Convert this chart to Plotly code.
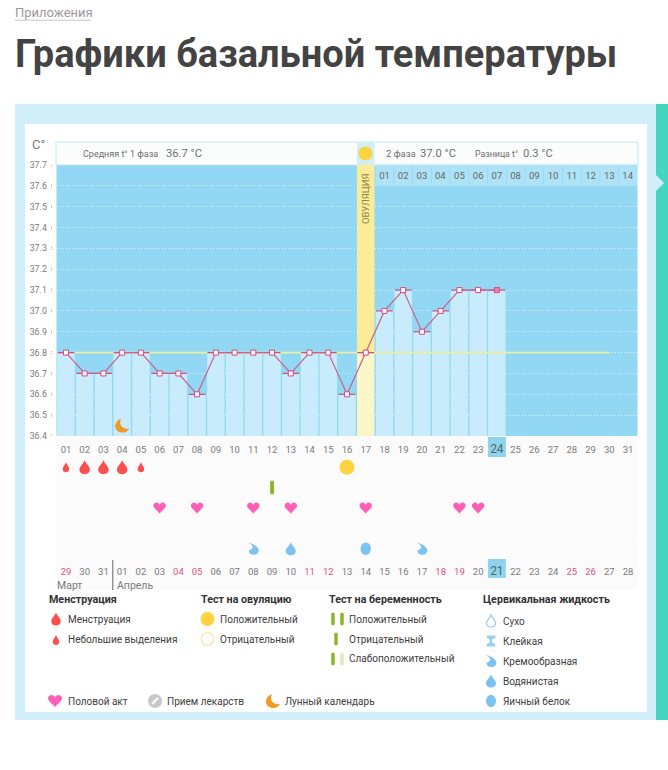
import plotly.graph_objects as go

W, H = 668, 770

# ---------- data ----------
days = list(range(1, 32))
day_labels = [f"{d:02d}" for d in days]
measured_days = list(range(1, 25))
temperature = [36.8, 36.7, 36.7, 36.8, 36.8, 36.7, 36.7, 36.6, 36.8, 36.8, 36.8, 36.8,
               36.7, 36.8, 36.8, 36.6, 36.8, 37.0, 37.1, 36.9, 37.0, 37.1, 37.1, 37.1]
y_ticks = [36.4, 36.5, 36.6, 36.7, 36.8, 36.9, 37.0, 37.1, 37.2, 37.3, 37.4, 37.5, 37.6, 37.7]
cover_line_days = [1.5, 30]
cover_line_temp = [36.8, 36.8]
ovulation_day = 17
today = 24
today_date_label = "21"
phase2_days = list(range(18, 32))
phase2_labels = [f"{i:02d}" for i in range(1, 15)]
calendar_labels = ["29", "30", "31", "01", "02", "03", "04", "05", "06", "07", "08", "09", "10", "11", "12",
                   "13", "14", "15", "16", "17", "18", "19", "20", "21", "22", "23", "24", "25", "26", "27", "28"]
weekend_positions = [1, 7, 8, 14, 15, 21, 22, 28, 29]
month_break = 3.5
months = ["Март", "Апрель"]
rows = ["menstruation", "pregnancy", "intercourse", "medicine", "cervical"]
heavy_days = [2, 3, 4]
light_days = [1, 5]
ovul_test_days = [16]
preg_test_days = [12]
heart_days = [6, 8, 11, 13, 17, 22, 23]
creamy_days = [11, 20]
watery_days = [13]
eggwhite_days = [17]
moon_days = [4]
moon_temp = 36.45
phase1_title, phase1_value = "Средняя t° 1 фаза", "36.7 °C"
phase2_title, phase2_value = "2 фаза", "37.0 °C"
diff_title, diff_value = "Разница t°", "0.3 °C"

# ---------- styles ----------
RED = "#fb4f4f"; PINK = "#fb5fb6"; BLUE = "#7cc3ef"; GREEN = "#8fb52c"; ORANGE = "#ef9a22"
YELLOW = "#fdd33f"; TXT = "#7a7a7a"; LEG = "#404040"
FONT = "Roboto"


def fx(px): return px / W
def fy(py): return 1 - py / H


def ellipse_path(rx, ry):
    kx, ky = rx * 0.5523, ry * 0.5523
    return (f"M0,{ry} C{kx},{ry} {rx},{ky} {rx},0 C{rx},{-ky} {kx},{-ry} 0,{-ry} "
            f"C{-kx},{-ry} {-rx},{-ky} {-rx},0 C{-rx},{ky} {-kx},{ry} 0,{ry} Z")


def circle_path(r):
    return ellipse_path(r, r)


def drop_path(w, h):
    return (f"M0,{h/2} C{w*.12},{h*.25} {w/2},{h*.05} {w/2},{-h*.17} C{w/2},{-h*.38} {w*.27},{-h/2} 0,{-h/2} "
            f"C{-w*.27},{-h/2} {-w/2},{-h*.38} {-w/2},{-h*.17} C{-w/2},{h*.05} {-w*.12},{h*.25} 0,{h/2} Z")


def heart_path(w, h):
    return (f"M0,{-h/2} C{-w*.2},{-h*.22} {-w/2},{-h*.02} {-w/2},{h*.22} C{-w/2},{h*.42} {-w*.34},{h/2} {-w*.24},{h/2} "
            f"C{-w*.12},{h/2} {-w*.03},{h*.42} 0,{h*.28} C{w*.03},{h*.42} {w*.12},{h/2} {w*.24},{h/2} "
            f"C{w*.34},{h/2} {w/2},{h*.42} {w/2},{h*.22} C{w/2},{-h*.02} {w*.2},{-h*.22} 0,{-h/2} Z")


def moon_path(s):
    return (f"M{-s*.08},{s*.5} C{-s*.38},{s*.38} {-s*.5},{s*.15} {-s*.5},{-s*.05} C{-s*.5},{-s*.32} {-s*.25},{-s*.5} {s*.02},{-s*.5} "
            f"C{s*.25},{-s*.5} {s*.42},{-s*.38} {s*.5},{-s*.2} C{s*.28},{-s*.28} {s*.02},{-s*.2} {-s*.1},{s*.02} "
            f"C{-s*.17},{s*.2} {-s*.14},{s*.36} {-s*.08},{s*.5} Z")


def creamy_path(s):
    return (f"M{-s*.42},{s*.5} C{-s*.05},{s*.45} {s*.45},{s*.15} {s*.45},{-s*.14} C{s*.45},{-s*.36} {s*.25},{-s*.5} {s*.02},{-s*.5} "
            f"C{-s*.22},{-s*.5} {-s*.38},{-s*.34} {-s*.38},{-s*.14} C{-s*.18},{-s*.1} {-s*.05},{s*.02} {-s*.05},{s*.12} "
            f"C{-s*.1},{s*.3} {-s*.25},{s*.42} {-s*.42},{s*.5} Z")


def hourglass_path(s):
    return (f"M{-s*.4},{s*.5} L{s*.4},{s*.5} L{s*.4},{s*.32} L{s*.1},{s*.12} L{s*.1},{-s*.12} L{s*.4},{-s*.32} "
            f"L{s*.4},{-s*.5} L{-s*.4},{-s*.5} L{-s*.4},{-s*.32} L{-s*.1},{-s*.12} L{-s*.1},{s*.12} L{-s*.4},{s*.32} Z")


def bar_path(w, h):
    r = w / 2
    return (f"M{-r},{h/2-r} Q{-r},{h/2} 0,{h/2} Q{r},{h/2} {r},{h/2-r} L{r},{-h/2+r} Q{r},{-h/2} 0,{-h/2} "
            f"Q{-r},{-h/2} {-r},{-h/2+r} Z")


shapes = []
ann = []


def rect(x0, y0, x1, y1, color, layer="below", line=None):
    shapes.append(dict(type="rect", xref="paper", yref="paper", x0=fx(x0), x1=fx(x1), y0=fy(y0), y1=fy(y1),
                       fillcolor=color, line=line or dict(width=0), layer=layer))


def glyph(path, xa, ya, xref, yref, color, line=None):
    shapes.append(dict(type="path", path=path, xref=xref, yref=yref, xsizemode="pixel", ysizemode="pixel",
                       xanchor=xa, yanchor=ya, fillcolor=color, line=line or dict(width=0), layer="above"))


def lglyph(path, px, py, color, line=None):
    glyph(path, fx(px), fy(py), "paper", "paper", color, line)


def text(t, px, py, size=10, color=LEG, weight=None, anchor="left", family=FONT):
    ann.append(dict(text=t, x=fx(px), y=fy(py), xref="paper", yref="paper", showarrow=False, xanchor=anchor,
                    yanchor="middle", font=dict(size=size, color=color, family=family, weight=weight or 400),
                    borderpad=0, borderwidth=0))


# ---------- page frame ----------
rect(15, 104, 656, 720, "#d0eff9")
rect(656, 104, 668, 720, "#45d5c0")
shapes.append(dict(type="path", xref="paper", yref="paper", layer="below", fillcolor="#d0eff9", line=dict(width=0),
                   path=f"M{fx(656)},{fy(175)} L{fx(664)},{fy(183)} L{fx(656)},{fy(191)} Z"))
rect(25, 124, 647, 712, "#ffffff")
rect(15, 19.5, 91, 21, "#d9d9d9")

# ---------- panels ----------
rect(56.5, 165, 637.5, 436, "#92d8f4")
rect(56, 142, 638, 165, "#fbfdfd", line=dict(width=1, color="#bfe6f3"))
rect(357, 142.5, 374.5, 165, "#cfeef8")
rect(56.5, 437, 637.5, 590, "#fbfbfb")
for sep in [477.5, 498, 518.5, 539, 559]:
    rect(56.5, sep - 0.5, 637.5, sep + 0.5, "#ffffff")

# today highlight cells, anchored on the day scale
for y0, y1 in [(437, 457), (559, 578)]:
    shapes.append(dict(type="rect", xref="x", yref="paper", x0=today - 0.48, x1=today + 0.48, y0=fy(y1), y1=fy(y0),
                       fillcolor="#8ed4ef", line=dict(width=0), layer="below"))

# y tick dots
for t in y_ticks:
    shapes.append(dict(type="line", xref="paper", yref="y", x0=fx(51.5), x1=fx(51.5),
                       ysizemode="pixel", yanchor=t, y0=-1.5, y1=1.5, line=dict(width=1, color="#aaaaaa", dash="1px,1px"),
                       layer="below"))

# month separator
shapes.append(dict(type="line", xref="x2", yref="paper", x0=month_break, x1=month_break, y0=fy(560), y1=fy(590),
                   line=dict(width=1, color="#666666"), layer="above"))

# ---------- figure ----------
fig = go.Figure()
bar_colors = ["#fdf6c8" if d == ovulation_day else "#c9ecfc" for d in measured_days]
fig.add_bar(x=measured_days, y=[v - y_ticks[0] for v in temperature], base=y_ticks[0], width=0.93,
            marker=dict(color=bar_colors, line=dict(width=0)), hoverinfo="skip", xaxis="x", yaxis="y")
fig.add_bar(x=[ovulation_day], y=[y_ticks[-1] - temperature[ovulation_day - 1]], base=temperature[ovulation_day - 1],
            width=0.93, marker=dict(color="#fcec98", line=dict(width=0)), hoverinfo="skip", xaxis="x", yaxis="y")
fig.add_bar(x=phase2_days, y=[y_ticks[-1] - y_ticks[-2]] * len(phase2_days), base=y_ticks[-2], width=0.96,
            marker=dict(color="#aee3f7", line=dict(width=0)), text=phase2_labels, textposition="inside",
            insidetextanchor="middle", textangle=0, constraintext="none",
            textfont=dict(size=9.5, color="#666666", family=FONT), hoverinfo="skip", xaxis="x", yaxis="y")
fig.add_scatter(x=cover_line_days, y=cover_line_temp, mode="lines", line=dict(color="#e9f0a2", width=1.6),
                hoverinfo="skip", xaxis="x", yaxis="y")
marker_fill = ["#ffffff"] * (len(measured_days) - 1) + ["#ee7fa6"]
fig.add_scatter(x=measured_days, y=temperature, mode="lines+markers",
                line=dict(color="#c9628a", width=1.2),
                marker=dict(symbol="square", size=5, color=marker_fill, line=dict(color="#d9487f", width=1)),
                error_x=dict(type="constant", value=0.45, thickness=1.2, width=0, color="#cf4f80"),
                xaxis="x", yaxis="y")
fig.add_scatter(x=ovul_test_days, y=[rows.index("menstruation")] * len(ovul_test_days), mode="markers",
                marker=dict(symbol="circle", size=15, color=YELLOW), xaxis="x2", yaxis="y2")
fig.add_scatter(x=[days[0], days[-1]], y=[0, 4], mode="markers", marker=dict(opacity=0), hoverinfo="skip",
                xaxis="x2", yaxis="y2")

# row marks anchored on the day/row scales
for d in heavy_days:
    glyph(drop_path(10.5, 14), d, rows.index("menstruation"), "x2", "y2", RED)
for d in light_days:
    glyph(drop_path(6.5, 10), d, rows.index("menstruation"), "x2", "y2", RED)
for d in preg_test_days:
    glyph(bar_path(4, 14), d, rows.index("pregnancy"), "x2", "y2", GREEN)
for d in heart_days:
    glyph(heart_path(12.5, 11), d, rows.index("intercourse"), "x2", "y2", PINK)
for d in creamy_days:
    glyph(creamy_path(12), d, rows.index("cervical"), "x2", "y2", BLUE)
for d in watery_days:
    glyph(drop_path(10, 13), d, rows.index("cervical"), "x2", "y2", BLUE)
for d in eggwhite_days:
    glyph(ellipse_path(5.2, 6.2), d, rows.index("cervical"), "x2", "y2", BLUE)
for d in moon_days:
    glyph(moon_path(14), d, moon_temp, "x", "y", ORANGE)

# ---------- header ----------
ann.append(dict(text="ОВУЛЯЦИЯ", x=ovulation_day, y=37.54, xref="x", yref="y", showarrow=False, textangle=-90,
                font=dict(size=9.5, color="#8f8650", family=FONT)))
lglyph(circle_path(7), 365.5, 153.5, YELLOW)
text("Приложения", 15, 12, 13, "#9a9a9a")
text("Графики базальной температуры", 15, 54, 38, "#434343", 700, family="Roboto")
text("C°", 32, 144, 13, "#808080")
text(phase1_title, 83, 154, 9, "#6f6f6f")
text(phase1_value, 166, 153, 11.2, "#6f6f6f")
text(phase2_title, 386, 154, 9.5, "#6f6f6f")
text(phase2_value, 420, 153, 11.2, "#6f6f6f")
text(diff_title, 475, 154, 8.8, "#6f6f6f")
text(diff_value, 523, 153, 11.2, "#6f6f6f")
text(months[0], 57, 585, 10.5, TXT)
text(months[1], 117, 585, 10.5, TXT)

# ---------- legend ----------
for t, x in [("Менструация", 49), ("Тест на овуляцию", 201), ("Тест на беременность", 329), ("Цервикальная жидкость", 483)]:
    text(t, x, 599, 10.7, "#333333", 700)

lglyph(drop_path(9.5, 13), 56, 619, RED)
text("Менструация", 68, 619)
lglyph(drop_path(6.5, 10), 56, 640, RED)
text("Небольшие выделения", 68, 639)

lglyph(circle_path(7), 207.5, 619, YELLOW)
text("Положительный", 220, 619)
lglyph(circle_path(6.3), 207.5, 639, "#ffffff", dict(width=1.2, color="#f7e7a0"))
text("Отрицательный", 220, 639)

lglyph(bar_path(3.5, 13), 333, 619, GREEN)
lglyph(bar_path(3.5, 13), 342, 619, GREEN)
text("Положительный", 349, 619)
lglyph(bar_path(3.5, 13), 336, 639, GREEN)
text("Отрицательный", 349, 639)
lglyph(bar_path(3.5, 13), 333, 659, GREEN)
lglyph(bar_path(3.5, 13), 342, 659, "#dfe9bd")
text("Слабоположительный", 349, 658)

lglyph(drop_path(9, 12), 491, 621, "#ffffff", dict(width=1.2, color="#9ad0ef"))
text("Сухо", 503, 621)
lglyph(hourglass_path(11), 491, 641, "#9ad0ef")
text("Клейкая", 503, 641)
lglyph(creamy_path(12), 491, 661, BLUE)
text("Кремообразная", 503, 661)
lglyph(drop_path(10, 13), 491, 681, BLUE)
text("Водянистая", 503, 681)
lglyph(ellipse_path(5, 6), 491, 701, BLUE)
text("Яичный белок", 503, 701)

lglyph(heart_path(14, 12), 55, 701, PINK)
text("Половой акт", 68, 701)
lglyph(circle_path(7), 155, 701, "#c8c8c8")
shapes.append(dict(type="path", xref="paper", yref="paper", xsizemode="pixel", ysizemode="pixel", xanchor=fx(155),
                   yanchor=fy(701), path="M-3,-3 L3,3", line=dict(width=2, color="#ffffff"), layer="above"))
text("Прием лекарств", 167, 701)
lglyph(moon_path(14), 273, 701, ORANGE)
text("Лунный календарь", 285, 701)

# ---------- axes ----------
cal_ticks = []
for i, lab in enumerate(calendar_labels, start=1):
    if lab == today_date_label and i == today:
        cal_ticks.append(f'<span style="font-size:12px;color:#566">{lab}</span>')
    elif i in weekend_positions:
        cal_ticks.append(f'<span style="color:#e2527f">{lab}</span>')
    else:
        cal_ticks.append(lab)
main_ticks = [f'<span style="font-size:12px;color:#566">{l}</span>' if d == today else l
              for d, l in zip(days, day_labels)]
xdomain = [fx(56.6), fx(637.4)]
fig.update_layout(
    template="none",
    width=W, height=H, autosize=False, margin=dict(l=0, r=0, t=0, b=0, pad=0), showlegend=False, barmode="overlay",
    paper_bgcolor="#ffffff", plot_bgcolor="rgba(0,0,0,0)", font=dict(family=FONT, color=TXT, size=9.5),
    shapes=shapes, annotations=ann,
    xaxis=dict(domain=xdomain, range=[0.5, 31.5], tickvals=days, ticktext=main_ticks, showgrid=False, zeroline=False,
               ticks="outside", ticklen=5, tickcolor="rgba(0,0,0,0)", anchor="y", automargin=False, showline=False,
               tickfont=dict(size=9.5, color=TXT)),
    yaxis=dict(domain=[fy(436), fy(165)], range=[y_ticks[0], y_ticks[-1]], tickvals=y_ticks,
               ticktext=[f"{t:.1f}" for t in y_ticks], showgrid=True, gridcolor="rgba(255,255,255,0.7)",
               griddash="1px,2px", gridwidth=1, zeroline=False, ticks="outside", ticklen=7, automargin=False,
               showline=False, tickcolor="rgba(0,0,0,0)", tickfont=dict(size=8.8, color=TXT), anchor="x"),
    xaxis2=dict(domain=xdomain, range=[0.5, 31.5], tickvals=days, ticktext=cal_ticks, showgrid=False, zeroline=False,
                ticks="outside", ticklen=4, tickcolor="rgba(0,0,0,0)", anchor="y2", automargin=False, showline=False,
                tickfont=dict(size=9.5, color=TXT)),
    yaxis2=dict(domain=[fy(559), fy(457)], range=[4.5, -0.5], showticklabels=False, showgrid=False, zeroline=False,
                anchor="x2", automargin=False, showline=False),
)
fig.write_html("out.html", config=dict(displayModeBar=False),
               post_script="document.body.style.margin='0';document.documentElement.style.overflow='hidden';")
